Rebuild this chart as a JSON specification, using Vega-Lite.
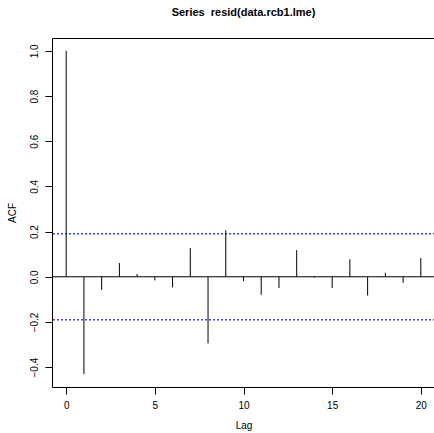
{
  "$schema": "https://vega.github.io/schema/vega-lite/v6.json",
  "width": 383,
  "height": 349,
  "autosize": {"type": "none"},
  "padding": {"left": 52, "top": 38, "right": 0, "bottom": 46},
  "background": "white",
  "config": {
    "font": "Liberation Sans",
    "view": {"stroke": "black", "strokeWidth": 1},
    "axis": {
      "grid": false,
      "domain": false,
      "tickColor": "black",
      "tickSize": 7,
      "labelFont": "Liberation Sans",
      "labelFontSize": 10,
      "labelColor": "black",
      "titleFont": "Liberation Sans",
      "titleFontSize": 10,
      "titleFontWeight": "normal",
      "titleColor": "black"
    }
  },
  "title": {
    "text": "Series\u00a0 resid(data.rcb1.lme)",
    "font": "Liberation Sans",
    "fontSize": 11,
    "fontWeight": "bold",
    "color": "black",
    "anchor": "middle",
    "offset": 20
  },
  "datasets": {
    "acf": [
      {"lag": 0, "acf": 1.0},
      {"lag": 1, "acf": -0.431},
      {"lag": 2, "acf": -0.058},
      {"lag": 3, "acf": 0.061},
      {"lag": 4, "acf": 0.012},
      {"lag": 5, "acf": -0.016},
      {"lag": 6, "acf": -0.047},
      {"lag": 7, "acf": 0.127},
      {"lag": 8, "acf": -0.295},
      {"lag": 9, "acf": 0.206},
      {"lag": 10, "acf": -0.019},
      {"lag": 11, "acf": -0.080},
      {"lag": 12, "acf": -0.050},
      {"lag": 13, "acf": 0.118},
      {"lag": 14, "acf": -0.004},
      {"lag": 15, "acf": -0.050},
      {"lag": 16, "acf": 0.077},
      {"lag": 17, "acf": -0.083},
      {"lag": 18, "acf": 0.018},
      {"lag": 19, "acf": -0.027},
      {"lag": 20, "acf": 0.083}
    ],
    "ci": [{"v": 0.19}, {"v": -0.19}],
    "zero": [{"v": 0}]
  },
  "layer": [
    {
      "data": {"name": "zero"},
      "mark": {"type": "rule", "color": "black", "strokeWidth": 1},
      "encoding": {
        "y": {"field": "v", "type": "quantitative", "scale": {"domain": [-0.488, 1.057], "nice": false, "zero": false}}
      }
    },
    {
      "data": {"name": "ci"},
      "mark": {"type": "rule", "color": "#3c3cff", "strokeWidth": 1.5, "strokeDash": [2, 2]},
      "encoding": {
        "y": {"field": "v", "type": "quantitative"}
      }
    },
    {
      "data": {"name": "acf"},
      "mark": {"type": "rule", "color": "black", "strokeWidth": 1},
      "encoding": {
        "x": {
          "field": "lag", "type": "quantitative",
          "scale": {"domain": [-0.8, 20.8], "nice": false, "zero": false},
          "axis": {"values": [0, 5, 10, 15, 20], "title": "Lag", "labelPadding": 6, "titlePadding": 10, "labelFlush": false}
        },
        "y": {
          "field": "acf", "type": "quantitative",
          "axis": {"values": [-0.4, -0.2, 0, 0.2, 0.4, 0.6, 0.8, 1.0], "format": ".1f", "title": "ACF", "labelAngle": -90, "labelAlign": "center", "labelBaseline": "bottom", "labelPadding": 6, "titlePadding": 12, "labelFlush": false}
        },
        "y2": {"datum": 0}
      }
    }
  ]
}
